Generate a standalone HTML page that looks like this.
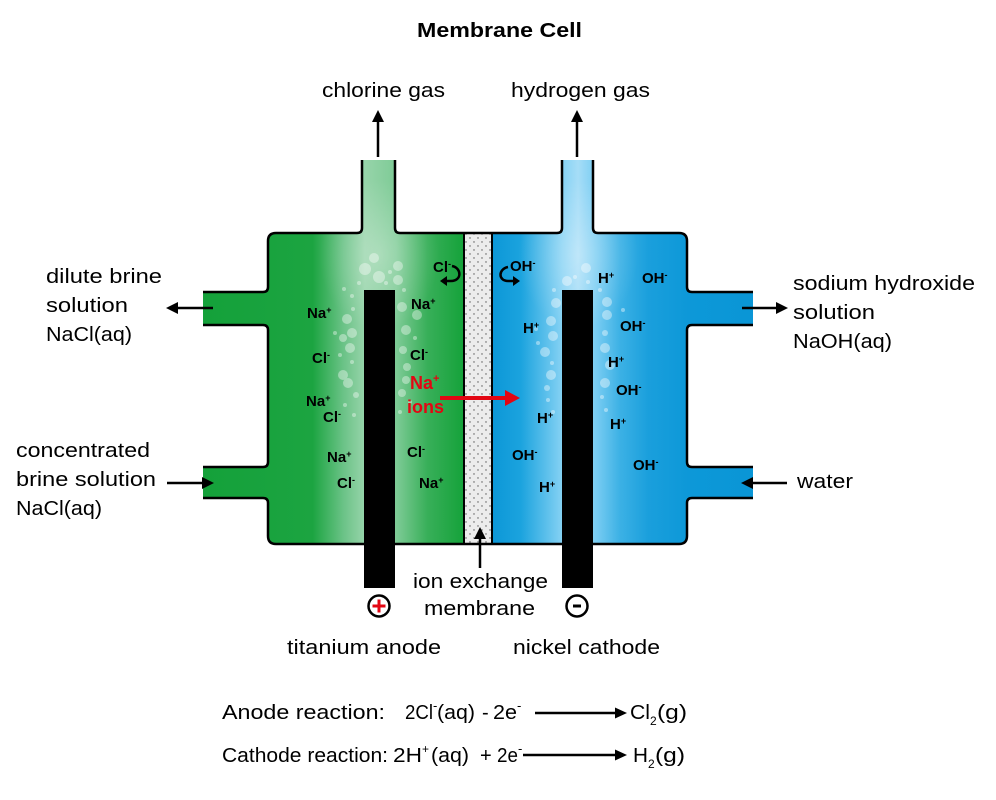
<!DOCTYPE html>
<html><head><meta charset="utf-8"><style>
html,body{margin:0;padding:0;background:#fff;}
svg{display:block;}
text{font-family:"Liberation Sans",Arial,sans-serif;}
</style></head><body>
<svg width="996" height="800" viewBox="0 0 996 800" xmlns="http://www.w3.org/2000/svg">
<defs>
 <linearGradient id="gg" gradientUnits="userSpaceOnUse" x1="203" y1="0" x2="464" y2="0">
  <stop offset="0" stop-color="#14a13a"/>
  <stop offset="0.42" stop-color="#1ca441"/>
  <stop offset="0.54" stop-color="#6cc388"/>
  <stop offset="0.62" stop-color="#97d4aa"/>
  <stop offset="0.74" stop-color="#7ecb96"/>
  <stop offset="0.86" stop-color="#38af59"/>
  <stop offset="1" stop-color="#15a23a"/>
 </linearGradient>
 <linearGradient id="bg" gradientUnits="userSpaceOnUse" x1="492" y1="0" x2="753" y2="0">
  <stop offset="0" stop-color="#0c97d7"/>
  <stop offset="0.11" stop-color="#1ba3de"/>
  <stop offset="0.20" stop-color="#56bdea"/>
  <stop offset="0.27" stop-color="#86d2f4"/>
  <stop offset="0.33" stop-color="#a6ddf7"/>
  <stop offset="0.39" stop-color="#7fcff3"/>
  <stop offset="0.49" stop-color="#3cb1e5"/>
  <stop offset="0.60" stop-color="#1a9fdc"/>
  <stop offset="0.75" stop-color="#0d98d8"/>
  <stop offset="1" stop-color="#0a96d6"/>
 </linearGradient>
 <radialGradient id="hl" cx="0.5" cy="0.5" r="0.5">
  <stop offset="0" stop-color="#fff" stop-opacity="0.28"/>
  <stop offset="1" stop-color="#fff" stop-opacity="0"/>
 </radialGradient>
 <pattern id="dots" patternUnits="userSpaceOnUse" width="8" height="8">
  <rect width="8" height="8" fill="#ececec"/>
  <circle cx="2" cy="2" r="0.7" fill="#555"/>
  <circle cx="6" cy="6" r="0.7" fill="#555"/>
 </pattern>
 <clipPath id="gc"><path d="M362,160 H395 V228 Q395,233 400,233 H464 V544 H276 Q268,544 268,536 V503 Q268,498 263,498 H203 V467 H263 Q268,467 268,462 V330 Q268,325 263,325 H203 V292 H263 Q268,292 268,287 V241 Q268,233 276,233 H357 Q362,233 362,228 Z"/></clipPath>
 <clipPath id="bc"><path d="M562,160 H593 V228 Q593,233 598,233 H679 Q687,233 687,241 V287 Q687,292 692,292 H753 V325 H692 Q687,325 687,330 V462 Q687,467 692,467 H753 V498 H692 Q687,498 687,503 V536 Q687,544 679,544 H492 V233 H557 Q562,233 562,228 Z"/></clipPath>
</defs>

<text x="417" y="37" font-size="20" font-weight="bold" textLength="165" lengthAdjust="spacingAndGlyphs">Membrane Cell</text>

<path fill="url(#gg)" d="M362,160 H395 V228 Q395,233 400,233 H464 V544 H276 Q268,544 268,536 V503 Q268,498 263,498 H203 V467 H263 Q268,467 268,462 V330 Q268,325 263,325 H203 V292 H263 Q268,292 268,287 V241 Q268,233 276,233 H357 Q362,233 362,228 Z"/>
<path fill="url(#bg)" d="M562,160 H593 V228 Q593,233 598,233 H679 Q687,233 687,241 V287 Q687,292 692,292 H753 V325 H692 Q687,325 687,330 V462 Q687,467 692,467 H753 V498 H692 Q687,498 687,503 V536 Q687,544 679,544 H492 V233 H557 Q562,233 562,228 Z"/>
<g clip-path="url(#gc)"><ellipse cx="379" cy="255" rx="60" ry="75" fill="url(#hl)"/></g>
<g clip-path="url(#bc)"><ellipse cx="578" cy="255" rx="60" ry="75" fill="url(#hl)"/></g>

<rect x="464" y="233" width="28" height="311" fill="url(#dots)"/>
<line x1="464" y1="233" x2="464" y2="544" stroke="#000" stroke-width="2"/>
<line x1="492" y1="233" x2="492" y2="544" stroke="#000" stroke-width="2"/>

<g fill="#fff" opacity="0.38">
<circle cx="374" cy="258" r="5"/><circle cx="365" cy="269" r="6"/><circle cx="379" cy="277" r="6"/><circle cx="398" cy="266" r="5"/><circle cx="398" cy="280" r="5"/><circle cx="390" cy="272" r="2"/><circle cx="359" cy="283" r="2"/><circle cx="344" cy="289" r="2"/><circle cx="352" cy="296" r="2"/><circle cx="353" cy="309" r="2"/><circle cx="347" cy="319" r="5"/><circle cx="352" cy="333" r="5"/><circle cx="343" cy="338" r="4"/><circle cx="350" cy="348" r="5"/><circle cx="340" cy="355" r="2"/><circle cx="352" cy="362" r="2"/><circle cx="343" cy="375" r="5"/><circle cx="348" cy="383" r="5"/><circle cx="335" cy="333" r="2"/><circle cx="356" cy="395" r="3"/><circle cx="345" cy="405" r="2"/><circle cx="354" cy="415" r="2"/>
<circle cx="402" cy="307" r="5"/><circle cx="417" cy="315" r="5"/><circle cx="406" cy="330" r="5"/><circle cx="415" cy="338" r="2"/><circle cx="403" cy="350" r="4"/><circle cx="407" cy="367" r="4"/><circle cx="406" cy="380" r="4"/><circle cx="402" cy="393" r="4"/><circle cx="410" cy="402" r="2"/><circle cx="400" cy="412" r="2"/><circle cx="404" cy="290" r="2"/><circle cx="386" cy="283" r="2"/>
</g>
<g fill="#fff" opacity="0.4">
<circle cx="586" cy="268" r="5"/><circle cx="567" cy="281" r="5"/><circle cx="575" cy="277" r="2"/><circle cx="588" cy="282" r="2"/><circle cx="554" cy="290" r="2"/><circle cx="556" cy="303" r="5"/><circle cx="551" cy="321" r="5"/><circle cx="553" cy="336" r="5"/><circle cx="545" cy="352" r="5"/><circle cx="552" cy="363" r="2"/><circle cx="551" cy="375" r="5"/><circle cx="547" cy="388" r="3"/><circle cx="538" cy="343" r="2"/><circle cx="536" cy="329" r="2"/><circle cx="548" cy="400" r="2"/><circle cx="553" cy="412" r="2"/>
<circle cx="607" cy="302" r="5"/><circle cx="607" cy="315" r="5"/><circle cx="623" cy="310" r="2"/><circle cx="605" cy="333" r="3"/><circle cx="605" cy="348" r="5"/><circle cx="610" cy="365" r="5"/><circle cx="605" cy="383" r="5"/><circle cx="602" cy="397" r="2"/><circle cx="606" cy="410" r="2"/><circle cx="600" cy="290" r="2"/>
</g>

<path fill="none" stroke="#000" stroke-width="2.5" stroke-linejoin="round" d="
M362,160 V228 Q362,233 357,233 H276 Q268,233 268,241 V287 Q268,292 263,292 H203
M203,325 H263 Q268,325 268,330 V462 Q268,467 263,467 H203
M203,498 H263 Q268,498 268,503 V536 Q268,544 276,544 H679 Q687,544 687,536 V503 Q687,498 692,498 H753
M753,467 H692 Q687,467 687,462 V330 Q687,325 692,325 H753
M753,292 H692 Q687,292 687,287 V241 Q687,233 679,233 H598 Q593,233 593,228 V160
M562,160 V228 Q562,233 557,233 H400 Q395,233 395,228 V160"/>

<rect x="364" y="290" width="31" height="298" fill="#000"/>
<rect x="562" y="290" width="31" height="298" fill="#000"/>

<g font-size="15" font-weight="bold" fill="#000">
<text x="433" y="272">Cl<tspan font-size="9" dy="-5">-</tspan></text>
<text x="510" y="271">OH<tspan font-size="9" dy="-5">-</tspan></text>
<text x="598" y="283">H<tspan font-size="9" dy="-5">+</tspan></text>
<text x="642" y="283">OH<tspan font-size="9" dy="-5">-</tspan></text>
<text x="307" y="318">Na<tspan font-size="9" dy="-5">+</tspan></text>
<text x="411" y="309">Na<tspan font-size="9" dy="-5">+</tspan></text>
<text x="523" y="333">H<tspan font-size="9" dy="-5">+</tspan></text>
<text x="620" y="331">OH<tspan font-size="9" dy="-5">-</tspan></text>
<text x="312" y="363">Cl<tspan font-size="9" dy="-5">-</tspan></text>
<text x="410" y="360">Cl<tspan font-size="9" dy="-5">-</tspan></text>
<text x="306" y="406">Na<tspan font-size="9" dy="-5">+</tspan></text>
<text x="323" y="422">Cl<tspan font-size="9" dy="-5">-</tspan></text>
<text x="327" y="462">Na<tspan font-size="9" dy="-5">+</tspan></text>
<text x="337" y="488">Cl<tspan font-size="9" dy="-5">-</tspan></text>
<text x="407" y="457">Cl<tspan font-size="9" dy="-5">-</tspan></text>
<text x="419" y="488">Na<tspan font-size="9" dy="-5">+</tspan></text>
<text x="608" y="367">H<tspan font-size="9" dy="-5">+</tspan></text>
<text x="616" y="395">OH<tspan font-size="9" dy="-5">-</tspan></text>
<text x="537" y="423">H<tspan font-size="9" dy="-5">+</tspan></text>
<text x="610" y="429">H<tspan font-size="9" dy="-5">+</tspan></text>
<text x="512" y="460">OH<tspan font-size="9" dy="-5">-</tspan></text>
<text x="633" y="470">OH<tspan font-size="9" dy="-5">-</tspan></text>
<text x="539" y="492">H<tspan font-size="9" dy="-5">+</tspan></text>
</g>

<path d="M452,266 C462,268 462,281 451,281 L446,281" fill="none" stroke="#000" stroke-width="2.5"/>
<polygon points="440,281 447,276 447,286" fill="#000"/>
<path d="M508,267 C498,269 498,281 508,281 L513,281" fill="none" stroke="#000" stroke-width="2.5"/>
<polygon points="520,281 513,276 513,286" fill="#000"/>

<g fill="#e30613" font-weight="bold" font-size="18">
<text x="410" y="389">Na<tspan font-size="11" dy="-7">+</tspan></text>
<text x="407" y="413">ions</text>
</g>
<line x1="440" y1="398" x2="507" y2="398" stroke="#e30613" stroke-width="4"/>
<polygon points="520,398 505,390 505,406" fill="#e30613"/>

<g stroke="#000" stroke-width="2.5">
<line x1="378" y1="157" x2="378" y2="118"/>
<line x1="577" y1="157" x2="577" y2="118"/>
<line x1="213" y1="308" x2="175" y2="308"/>
<line x1="167" y1="483" x2="205" y2="483"/>
<line x1="742" y1="308" x2="780" y2="308"/>
<line x1="787" y1="483" x2="749" y2="483"/>
<line x1="480" y1="568" x2="480" y2="535"/>
<line x1="535" y1="713" x2="618" y2="713"/>
<line x1="523" y1="755" x2="618" y2="755"/>
</g>
<g fill="#000">
<polygon points="378,110 372,122 384,122"/>
<polygon points="577,110 571,122 583,122"/>
<polygon points="166,308 178,302 178,314"/>
<polygon points="214,483 202,477 202,489"/>
<polygon points="788,308 776,302 776,314"/>
<polygon points="741,483 753,477 753,489"/>
<polygon points="480,527 474,539 486,539"/>
<polygon points="627,713 615,707.5 615,718.5"/>
<polygon points="627,755 615,749.5 615,760.5"/>
</g>

<circle cx="379" cy="606" r="10.5" fill="#fff" stroke="#000" stroke-width="2.5"/>
<line x1="372.5" y1="606" x2="385.5" y2="606" stroke="#e30613" stroke-width="3"/>
<line x1="379" y1="599.5" x2="379" y2="612.5" stroke="#e30613" stroke-width="3"/>
<circle cx="577" cy="606" r="10.5" fill="#fff" stroke="#000" stroke-width="2.5"/>
<line x1="573" y1="606" x2="581" y2="606" stroke="#000" stroke-width="3"/>

<g font-size="20" fill="#000">
<text x="322" y="97" textLength="123" lengthAdjust="spacingAndGlyphs">chlorine gas</text>
<text x="511" y="97" textLength="139" lengthAdjust="spacingAndGlyphs">hydrogen gas</text>
<text x="46" y="283" textLength="116" lengthAdjust="spacingAndGlyphs">dilute brine</text>
<text x="46" y="312" textLength="82" lengthAdjust="spacingAndGlyphs">solution</text>
<text x="46" y="341" textLength="86" lengthAdjust="spacingAndGlyphs">NaCl(aq)</text>
<text x="16" y="457" textLength="134" lengthAdjust="spacingAndGlyphs">concentrated</text>
<text x="16" y="486" textLength="140" lengthAdjust="spacingAndGlyphs">brine solution</text>
<text x="16" y="515" textLength="86" lengthAdjust="spacingAndGlyphs">NaCl(aq)</text>
<text x="793" y="290" textLength="182" lengthAdjust="spacingAndGlyphs">sodium hydroxide</text>
<text x="793" y="319" textLength="82" lengthAdjust="spacingAndGlyphs">solution</text>
<text x="793" y="348" textLength="99" lengthAdjust="spacingAndGlyphs">NaOH(aq)</text>
<text x="797" y="488" textLength="56" lengthAdjust="spacingAndGlyphs">water</text>
<text x="413" y="588" textLength="135" lengthAdjust="spacingAndGlyphs">ion exchange</text>
<text x="424" y="615" textLength="111" lengthAdjust="spacingAndGlyphs">membrane</text>
<text x="287" y="654" textLength="154" lengthAdjust="spacingAndGlyphs">titanium anode</text>
<text x="513" y="654" textLength="147" lengthAdjust="spacingAndGlyphs">nickel cathode</text>

<text x="222" y="719" textLength="163" lengthAdjust="spacingAndGlyphs">Anode reaction:</text>
<text x="405" y="719" textLength="28" lengthAdjust="spacingAndGlyphs">2Cl</text>
<text x="433" y="710" font-size="13">-</text>
<text x="437" y="719" textLength="38" lengthAdjust="spacingAndGlyphs">(aq)</text>
<text x="482" y="719">-</text>
<text x="493" y="719" textLength="24" lengthAdjust="spacingAndGlyphs">2e</text>
<text x="517" y="710" font-size="13">-</text>
<text x="630" y="719" textLength="20" lengthAdjust="spacingAndGlyphs">Cl</text>
<text x="650" y="725" font-size="12">2</text>
<text x="657" y="719" textLength="30" lengthAdjust="spacingAndGlyphs">(g)</text>

<text x="222" y="762" textLength="166" lengthAdjust="spacingAndGlyphs">Cathode reaction:</text>
<text x="393" y="762" textLength="29" lengthAdjust="spacingAndGlyphs">2H</text>
<text x="422" y="753" font-size="12">+</text>
<text x="431" y="762" textLength="38" lengthAdjust="spacingAndGlyphs">(aq)</text>
<text x="480" y="762">+</text>
<text x="497" y="762" textLength="21" lengthAdjust="spacingAndGlyphs">2e</text>
<text x="518" y="753" font-size="13">-</text>
<text x="633" y="762" textLength="15" lengthAdjust="spacingAndGlyphs">H</text>
<text x="648" y="768" font-size="12">2</text>
<text x="655" y="762" textLength="30" lengthAdjust="spacingAndGlyphs">(g)</text>
</g>
</svg>
</body></html>
